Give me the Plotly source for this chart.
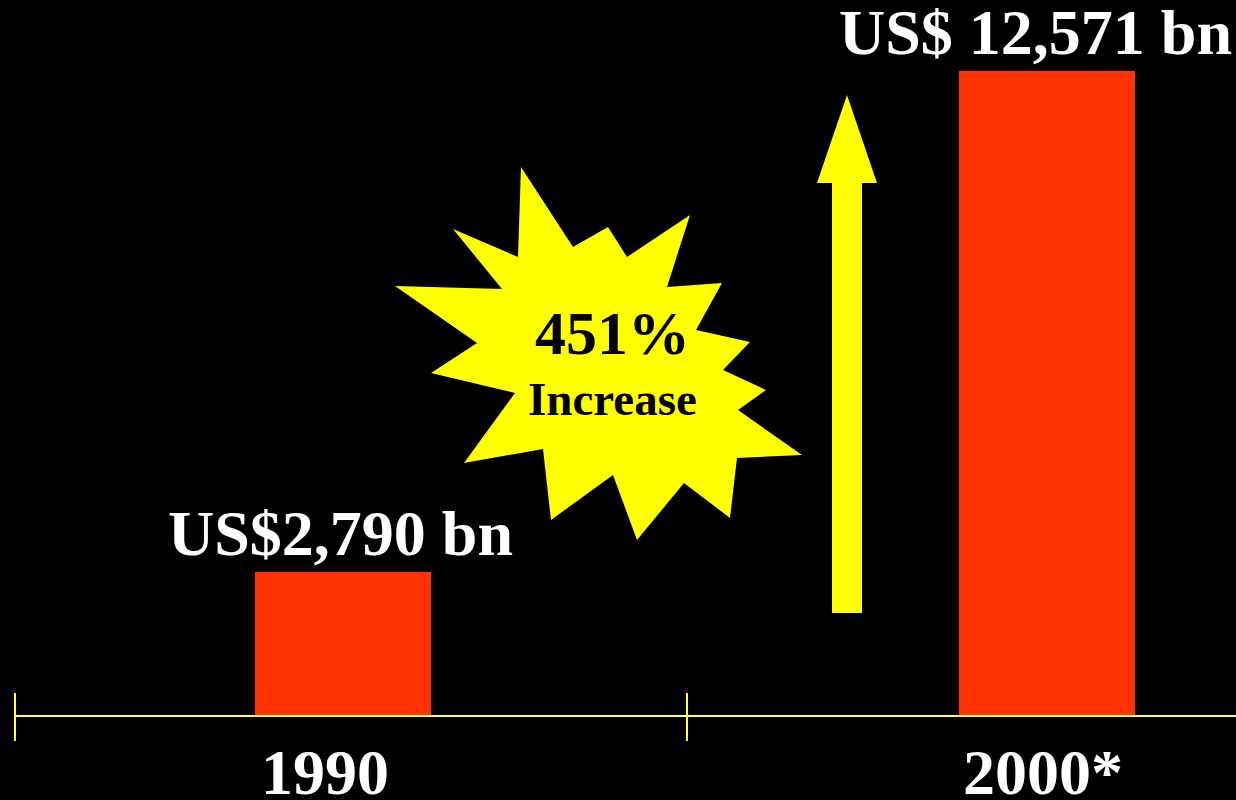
import plotly.graph_objects as go

# ---- data -------------------------------------------------------------
years = ["1990", "2000*"]
values_bn = [2790, 12571]
value_labels = ["US$2,790 bn", "US$ 12,571 bn"]
growth_text = "451%"
growth_caption = "Increase"

# ---- canvas geometry (pixels) ------------------------------------------
W, H = 1236, 800
LEFT = 15            # plot area starts at the first boundary tick
BOTTOM = 85          # space under the baseline for the year labels
PLOT_W = W - LEFT
PLOT_H = H - BOTTOM
PX_PER_CAT = 704     # distance between the two bar centres
FIRST_CENTRE = 343   # pixel x of the first bar centre
X0 = (LEFT - FIRST_CENTRE) / PX_PER_CAT
X1 = X0 + PLOT_W / PX_PER_CAT
Y_MAX = 13950

RED = "#FF3300"
YELLOW = "#FFFF00"
AXIS_YELLOW = "#FFFF44"
FONT = "Liberation Serif"


def paper(px, py):
    """Convert page pixels to paper coordinates of the plot area."""
    return (px - LEFT) / PLOT_W, (PLOT_H - py) / PLOT_H


def path_from_pixels(points):
    pts = [paper(x, y) for x, y in points]
    return "M " + " L ".join(f"{x:.5f},{y:.5f}" for x, y in pts) + " Z"


# burst outline around the growth figure (page pixels)
burst = [
    (521, 167), (573, 247), (608, 227), (627, 257), (690, 215), (667, 287),
    (722, 283), (696, 330), (750, 342), (723, 370), (766, 390), (738, 410),
    (802, 455), (737, 458), (730, 518), (684, 483), (637, 540), (613, 475),
    (551, 520), (543, 449), (464, 463), (515, 393), (431, 373), (477, 343),
    (395, 286), (502, 289), (453, 229), (518, 257),
]

# upward arrow between the bars (page pixels)
arrow = [
    (832, 613), (832, 183), (817, 183), (847, 95), (877, 183), (862, 183),
    (862, 613),
]

fig = go.Figure()
fig.add_trace(go.Bar(
    x=years,
    y=values_bn,
    width=0.25,
    marker=dict(color=RED, line=dict(width=0)),
    hoverinfo="skip",
))

shapes = [
    dict(type="path", xref="paper", yref="paper", path=path_from_pixels(burst),
         fillcolor=YELLOW, line=dict(width=0), layer="above"),
    dict(type="path", xref="paper", yref="paper", path=path_from_pixels(arrow),
         fillcolor=YELLOW, line=dict(width=0), layer="above"),
]

# boundary ticks crossing the baseline
for bx in (LEFT, LEFT + 672):
    xa, ya = paper(bx, 693)
    _, yb = paper(bx, 741)
    shapes.append(dict(type="line", xref="paper", yref="paper",
                       x0=xa, x1=xa, y0=ya, y1=yb,
                       line=dict(color=AXIS_YELLOW, width=2)))

annotations = []
# category positions are given by index so numeric-looking names stay categories
label_xshift = [-3, -12]
for i, (v, txt, dx) in enumerate(zip(values_bn, value_labels, label_xshift)):
    annotations.append(dict(
        x=i, y=v, xref="x", yref="y", text=txt, showarrow=False,
        xanchor="center", yanchor="bottom", yshift=1, xshift=dx,
        font=dict(family=FONT, size=64, color="white", weight="bold"),
    ))

year_xshift = [-18, -4]
for i, (yr, dx) in enumerate(zip(years, year_xshift)):
    annotations.append(dict(
        x=i, y=0, xref="x", yref="y", text=yr, showarrow=False,
        xanchor="center", yanchor="top", yshift=-20, xshift=dx,
        font=dict(family=FONT, size=64, color="white", weight="bold"),
    ))

gx, gy = paper(612, 333)
annotations.append(dict(
    x=gx, y=gy, xref="paper", yref="paper", text=growth_text, showarrow=False,
    xanchor="center", yanchor="middle",
    font=dict(family=FONT, size=62, color="black", weight="bold"),
))
cx, cy = paper(612, 399)
annotations.append(dict(
    x=cx, y=cy, xref="paper", yref="paper", text=growth_caption, showarrow=False,
    xanchor="center", yanchor="middle",
    font=dict(family=FONT, size=47, color="black", weight="bold"),
))

fig.update_layout(
    width=W, height=H,
    margin=dict(l=LEFT, r=0, t=0, b=BOTTOM, pad=0),
    paper_bgcolor="black",
    plot_bgcolor="black",
    showlegend=False,
    bargap=0,
    shapes=shapes,
    annotations=annotations,
    xaxis=dict(
        type="category", range=[X0, X1], showline=True, linecolor=AXIS_YELLOW,
        linewidth=2, showticklabels=False, ticks="", showgrid=False,
        zeroline=False, fixedrange=True,
    ),
    yaxis=dict(range=[0, Y_MAX], visible=False, fixedrange=True),
)

fig.write_html("out.html", config={"displayModeBar": False})
